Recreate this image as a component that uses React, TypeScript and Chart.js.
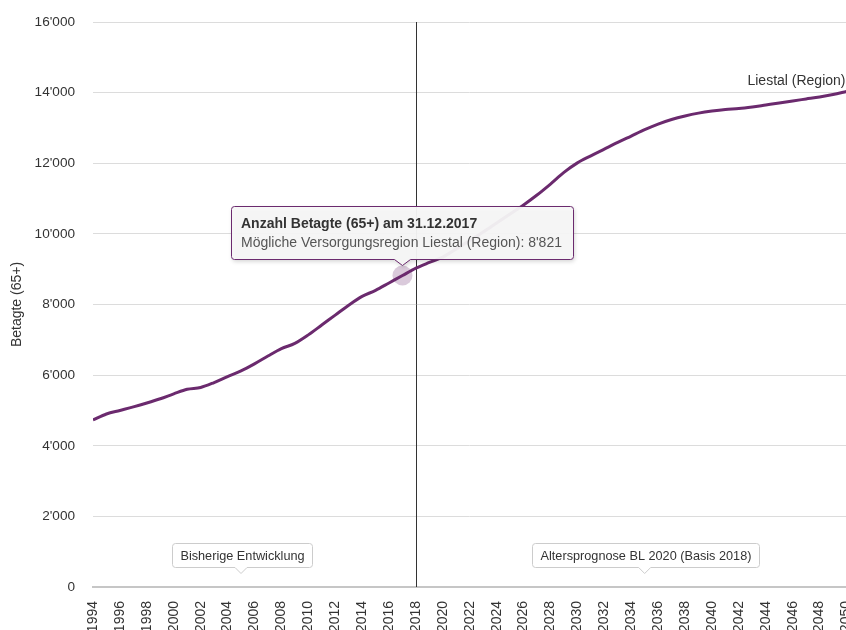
import React, { useEffect, useRef } from "react";
import { Chart, registerables } from "chart.js";

Chart.register(...registerables);

const years = [
  1994, 1995, 1996, 1997, 1998, 1999, 2000, 2001, 2002, 2003, 2004, 2005, 2006, 2007, 2008, 2009,
  2010, 2011, 2012, 2013, 2014, 2015, 2016, 2017, 2018, 2019, 2020, 2021, 2022, 2023, 2024, 2025,
  2026, 2027, 2028, 2029, 2030, 2031, 2032, 2033, 2034, 2035, 2036, 2037, 2038, 2039, 2040, 2041,
  2042, 2043, 2044, 2045, 2046, 2047, 2048, 2049, 2050,
];

const betagte = [
  4730, 4900, 5000, 5100, 5210, 5330, 5470, 5600, 5650, 5790, 5960, 6120, 6320, 6540, 6750, 6900,
  7140, 7420, 7700, 7980, 8230, 8400, 8610, 8821, 9030, 9190, 9340, 9575, 9815, 10055, 10310, 10565,
  10820, 11100, 11410, 11740, 12010, 12210, 12400, 12590, 12770, 12950, 13110, 13240, 13340, 13420, 13480, 13525,
  13550, 13595, 13650, 13705, 13765, 13820, 13875, 13945, 14030,
];

const seriesName = "Liestal (Region)";
const yAxisTitle = "Betagte (65+)";
const yMin = 0;
const yMax = 16000;
const yStep = 2000;
const xMin = 1994;
const xMax = 2050;
const xStep = 2;

const dividerYear = 2018;
const hoverYear = 2017;
const tooltipTitle = "Anzahl Betagte (65+) am 31.12.2017";
const tooltipBody = "Mögliche Versorgungsregion Liestal (Region): 8'821";

const phaseYears = [2005, 2035];
const phaseLabels = ["Bisherige Entwicklung", "Altersprognose BL 2020 (Basis 2018)"];

const FONT = "'Liberation Sans', Arial, Helvetica, sans-serif";
const LINE_COLOR = "#6b2a6e";

const fmt = (v: number) => {
  const s = String(Math.round(v));
  return s.replace(/\B(?=(\d{3})+(?!\d))/g, "'");
};

function calloutPath(
  ctx: CanvasRenderingContext2D,
  x0: number,
  top: number,
  w: number,
  h: number,
  r: number,
  cx: number,
  caretHalf: number,
  caretH: number
) {
  const x1 = x0 + w;
  const bottom = top + h;
  ctx.beginPath();
  ctx.moveTo(x0 + r, top);
  ctx.lineTo(x1 - r, top);
  ctx.quadraticCurveTo(x1, top, x1, top + r);
  ctx.lineTo(x1, bottom - r);
  ctx.quadraticCurveTo(x1, bottom, x1 - r, bottom);
  ctx.lineTo(cx + caretHalf, bottom);
  ctx.lineTo(cx, bottom + caretH);
  ctx.lineTo(cx - caretHalf, bottom);
  ctx.lineTo(x0 + r, bottom);
  ctx.quadraticCurveTo(x0, bottom, x0, bottom - r);
  ctx.lineTo(x0, top + r);
  ctx.quadraticCurveTo(x0, top, x0 + r, top);
  ctx.closePath();
}

const overlayPlugin = {
  id: "overlay",
  beforeDatasetsDraw(chart: any) {
    const { ctx, chartArea, scales } = chart;
    const x = Math.round(scales.x.getPixelForValue(dividerYear)) + 0.5;
    ctx.save();
    ctx.strokeStyle = "#333333";
    ctx.lineWidth = 1;
    ctx.beginPath();
    ctx.moveTo(x, chartArea.top);
    ctx.lineTo(x, chartArea.bottom);
    ctx.stroke();
    ctx.restore();
  },
  afterDatasetsDraw(chart: any) {
    const { ctx, chartArea, scales } = chart;
    const meta = chart.getDatasetMeta(0);
    ctx.save();

    // phase callouts
    ctx.font = `12.7px ${FONT}`;
    phaseYears.forEach((yr, i) => {
      const text = phaseLabels[i];
      const cx = scales.x.getPixelForValue(yr);
      const tw = ctx.measureText(text).width;
      const w = Math.round(tw + 16);
      const h = 24;
      const bottom = chartArea.bottom - 20;
      const top = bottom - h;
      const x0 = Math.round(cx - w / 2) + 1.5;
      calloutPath(ctx, x0, top + 0.5, w, h, 3, cx, 6, 6);
      ctx.fillStyle = "#ffffff";
      ctx.fill();
      ctx.strokeStyle = "#cccccc";
      ctx.lineWidth = 1;
      ctx.stroke();
      ctx.fillStyle = "#333333";
      ctx.textAlign = "center";
      ctx.textBaseline = "middle";
      ctx.fillText(text, x0 + w / 2, top + h / 2 + 1);
    });

    // series label at end
    const last = meta.data[meta.data.length - 1];
    ctx.font = `14px ${FONT}`;
    ctx.fillStyle = "#333333";
    ctx.textAlign = "right";
    ctx.textBaseline = "middle";
    ctx.fillText(seriesName, last.x - 1, last.y - 10);

    // hover halo + tooltip
    const idx = years.indexOf(hoverYear);
    const pt = meta.data[idx];
    ctx.beginPath();
    ctx.arc(pt.x, pt.y, 10, 0, Math.PI * 2);
    ctx.fillStyle = "rgba(107,42,110,0.25)";
    ctx.fill();

    ctx.font = `bold 14px ${FONT}`;
    const tW = ctx.measureText(tooltipTitle).width;
    ctx.font = `14px ${FONT}`;
    const bW = ctx.measureText(tooltipBody).width;
    const w = Math.round(Math.max(tW, bW) + 21);
    const h = 53;
    const bottom = Math.round(pt.y - 17);
    const top = bottom - h;
    const x0 = Math.round(pt.x - w / 2) + 0.5;
    ctx.save();
    ctx.shadowColor = "rgba(0,0,0,0.18)";
    ctx.shadowBlur = 4;
    ctx.shadowOffsetX = 1;
    ctx.shadowOffsetY = 2;
    calloutPath(ctx, x0, top + 0.5, w, h, 3, pt.x, 8, 6);
    ctx.fillStyle = "rgba(247,247,247,0.95)";
    ctx.fill();
    ctx.restore();
    calloutPath(ctx, x0, top + 0.5, w, h, 3, pt.x, 8, 6);
    ctx.strokeStyle = LINE_COLOR;
    ctx.lineWidth = 1;
    ctx.stroke();

    ctx.textAlign = "left";
    ctx.textBaseline = "middle";
    ctx.fillStyle = "#333333";
    ctx.font = `bold 14px ${FONT}`;
    ctx.fillText(tooltipTitle, x0 + 9.5, top + 18.5);
    ctx.fillStyle = "#555555";
    ctx.font = `14px ${FONT}`;
    ctx.fillText(tooltipBody, x0 + 9.5, top + 37);

    ctx.restore();
  },
};

const W = 860;
const H = 642;

export default function App() {
  const ref = useRef<HTMLCanvasElement | null>(null);

  useEffect(() => {
    if (!ref.current) return;
    Chart.defaults.font.family = FONT;
    const chart = new Chart(ref.current, {
      type: "line",
      data: {
        datasets: [
          {
            label: seriesName,
            data: years.map((y, i) => ({ x: y, y: betagte[i] })),
            borderColor: LINE_COLOR,
            backgroundColor: LINE_COLOR,
            borderWidth: 3,
            pointRadius: 0,
            cubicInterpolationMode: "monotone",
            fill: false,
          },
        ],
      },
      options: {
        responsive: false,
        animation: false,
        devicePixelRatio: 1,
        layout: { padding: { top: 22, right: W - 846.5, bottom: 0, left: 0 } },
        plugins: {
          legend: { display: false },
          tooltip: { enabled: false },
        },
        scales: {
          x: {
            type: "linear",
            min: xMin,
            max: xMax,
            afterFit: (s: any) => {
              s.height = H - 587;
              s.paddingLeft = 0;
              s.paddingRight = 0;
            },
            ticks: {
              stepSize: xStep,
              autoSkip: false,
              minRotation: 90,
              maxRotation: 90,
              padding: 14,
              color: "#333333",
              font: { size: 14, family: FONT },
              callback: (v: any) => String(v),
            },
            grid: { display: false, drawTicks: false },
            border: { display: true, color: "#c6c6c6", width: 2 },
          },
          y: {
            min: yMin,
            max: yMax,
            afterFit: (s: any) => {
              s.width = 93;
              s.paddingTop = 0;
              s.paddingBottom = 0;
            },
            ticks: {
              stepSize: yStep,
              padding: 18,
              color: "#333333",
              font: { size: 13.6, family: FONT },
              callback: (v: any) => fmt(Number(v)),
            },
            grid: { color: "#dcdcdc", lineWidth: 1, drawTicks: false },
            border: { display: false },
            title: {
              display: true,
              text: yAxisTitle,
              color: "#333333",
              font: { size: 14, family: FONT },
              padding: { top: 9, bottom: 0 },
            },
          },
        },
      },
      plugins: [overlayPlugin],
    });
    return () => chart.destroy();
  }, []);

  return (
    <div
      style={{
        position: "absolute",
        left: 0,
        top: 0,
        width: 846,
        height: 630,
        overflow: "hidden",
        background: "#ffffff",
      }}
    >
      <canvas ref={ref} width={W} height={H} style={{ width: W, height: H, display: "block" }} />
    </div>
  );
}
